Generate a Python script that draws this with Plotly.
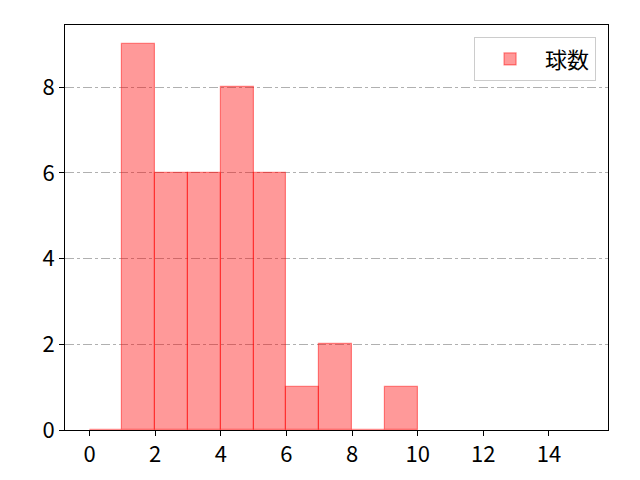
import plotly.graph_objects as go

bin_left = list(range(0, 10))
counts = [0, 9, 6, 6, 8, 6, 1, 2, 0, 1]
series_name = "球数"
x_ticks = [0, 2, 4, 6, 8, 10, 12, 14]
y_ticks = [0, 2, 4, 6, 8]

centers = [b + 0.5 for b in bin_left]

fig = go.Figure()
fig.add_trace(go.Bar(
    x=centers, y=counts, width=[1] * len(centers), name=series_name,
    marker=dict(color="rgba(255,0,0,0.4)", line=dict(color="rgba(255,0,0,0.45)", width=1.2)),
    showlegend=True,
))

axis_font = dict(family="Noto Sans CJK JP, DejaVu Sans", size=22, color="black")
fig.update_layout(
    width=632, height=472,
    margin=dict(l=57, r=32, t=17, b=48),
    paper_bgcolor="white", plot_bgcolor="white",
    bargap=0,
    font=axis_font,
    xaxis=dict(range=[-0.75, 15.8], tickvals=x_ticks, ticks="outside", ticklen=5,
               tickcolor="black", showline=True, linecolor="black", linewidth=1,
               mirror=True, showgrid=False, zeroline=False, tickfont=axis_font),
    yaxis=dict(range=[0, 9.45], tickvals=y_ticks, ticks="outside", ticklen=5,
               tickcolor="black", showline=True, linecolor="black", linewidth=1,
               mirror=True, showgrid=True, gridcolor="#b0b0b0", griddash="dashdot",
               gridwidth=1, zeroline=False, tickfont=axis_font),
    legend=dict(x=0.978, y=0.97, xanchor="right", yanchor="top",
                bordercolor="#cccccc", borderwidth=1, bgcolor="rgba(255,255,255,0.8)",
                font=dict(family="Noto Sans CJK JP", size=22, color="black"),
                itemwidth=60),
)

fig.write_html("out.html")
